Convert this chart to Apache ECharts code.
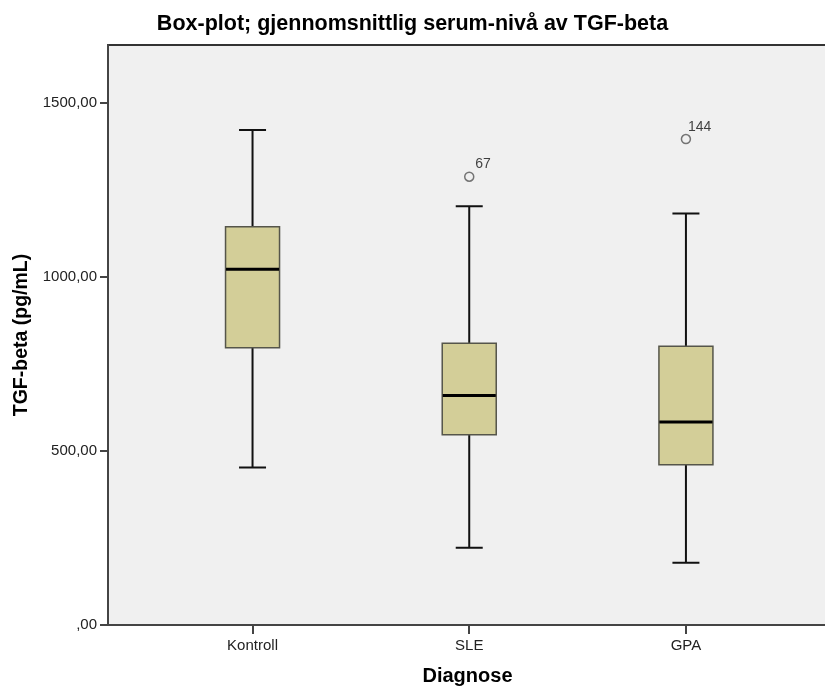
<!DOCTYPE html>
<html>
<head>
<meta charset="utf-8">
<title>Box-plot TGF-beta</title>
<script src="https://cdn.jsdelivr.net/npm/echarts@6/dist/echarts.min.js"></script>
<style>
  html, body { margin: 0; padding: 0; background: #fff; }
  #main { width: 825px; height: 686px; }
</style>
</head>
<body>
<div id="main"></div>
<script>
// diagnosegrupper
var categories = ['Kontroll', 'SLE', 'GPA'];
// [min, Q1, median, Q3, max] per gruppe
var whiskerMin = [452, 222, 179];
var q1 = [796, 546, 460];
var median = [1021, 659, 583];
var q3 = [1143, 809, 800];
var whiskerMax = [1421, 1202, 1181];
// uteliggere: [gruppe, verdi, casenummer]
var outlierGroup = [1, 2];
var outlierValue = [1287, 1395];
var outlierCase = ['67', '144'];
var yTicks = [0, 500, 1000, 1500];

var chart = echarts.init(document.getElementById('main'));

var font = 'Liberation Sans, Arial, sans-serif';

// whiskers (box collapsed on the median, hidden under the real box)
var whiskerData = categories.map(function (c, i) {
    return [i, whiskerMin[i], median[i], median[i], median[i], whiskerMax[i]];
});
// box Q1..Q3
var boxData = categories.map(function (c, i) {
    return [i, q1[i], q1[i], median[i], q3[i], q3[i]];
});
// thick median line
var medianData = categories.map(function (c, i) {
    return [i, median[i], median[i], median[i], median[i], median[i]];
});
var outlierData = outlierGroup.map(function (g, i) {
    return { value: [g, outlierValue[i]], name: outlierCase[i] };
});

// one x axis per boxplot layer so the layers are not placed side by side
function makeXAxis(visible) {
    return {
        type: 'value',
        show: visible,
        min: -0.667,
        max: 2.651,
        name: visible ? 'Diagnose' : '',
        nameLocation: 'middle',
        nameGap: 41,
        nameTextStyle: { fontFamily: font, fontSize: 20, fontWeight: 'bold', color: '#000' },
        splitLine: { show: false },
        axisLine: { show: true, onZero: false, lineStyle: { color: '#444', width: 2 } },
        axisTick: {
            show: true, length: 9, customValues: [0, 1, 2],
            lineStyle: { color: '#444', width: 2 }
        },
        axisLabel: {
            customValues: [0, 1, 2],
            margin: 13,
            fontFamily: font, fontSize: 15, color: '#222',
            formatter: function (v) { return categories[Math.round(v)]; }
        }
    };
}

var option = {
    animation: false,
    title: {
        text: 'Box-plot; gjennomsnittlig serum-nivå av TGF-beta',
        left: 'center',
        top: 8,
        textStyle: { fontFamily: font, fontSize: 21.5, fontWeight: 'bold', color: '#000' }
    },
    grid: {
        left: 108,
        right: -2,
        top: 45,
        bottom: 61,
        outerBoundsMode: 'none',
        containLabel: false,
        show: true,
        backgroundColor: '#f0f0f0',
        borderColor: '#333',
        borderWidth: 2
    },
    xAxis: [makeXAxis(true), makeXAxis(false), makeXAxis(false)],
    yAxis: {
        type: 'value',
        min: 0,
        max: 1665,
        name: 'TGF-beta (pg/mL)',
        nameLocation: 'middle',
        nameGap: 69,
        nameTextStyle: { fontFamily: font, fontSize: 19.5, fontWeight: 'bold', color: '#000' },
        splitLine: { show: false },
        axisLine: { show: true, onZero: false, lineStyle: { color: '#444', width: 2 } },
        axisTick: {
            show: true, length: 8, customValues: yTicks,
            lineStyle: { color: '#444', width: 2 }
        },
        axisLabel: {
            customValues: yTicks,
            margin: 11,
            fontFamily: font, fontSize: 15, color: '#222',
            formatter: function (v) { return v === 0 ? ',00' : v + ',00'; }
        }
    },
    series: [
        {
            type: 'boxplot',
            xAxisIndex: 0,
            data: whiskerData,
            boxWidth: [27, 27],
            itemStyle: { color: 'transparent', borderColor: '#111', borderWidth: 2 }
        },
        {
            type: 'boxplot',
            xAxisIndex: 1,
            data: boxData,
            boxWidth: [54, 54],
            itemStyle: { color: '#d3ce98', borderColor: '#55554a', borderWidth: 1.5 }
        },
        {
            type: 'boxplot',
            xAxisIndex: 2,
            data: medianData,
            boxWidth: [53, 53],
            itemStyle: { color: 'transparent', borderColor: '#000', borderWidth: 3 }
        },
        {
            type: 'scatter',
            xAxisIndex: 0,
            data: outlierData,
            symbol: 'circle',
            symbolSize: 9,
            itemStyle: { color: '#f0f0f0', borderColor: '#555', borderWidth: 1.5 },
            label: {
                show: true,
                formatter: '{b}',
                position: [19, 0],
                align: 'center',
                verticalAlign: 'bottom',
                fontFamily: font, fontSize: 14, color: '#111'
            }
        }
    ]
};
chart.setOption(option);
</script>
</body>
</html>
